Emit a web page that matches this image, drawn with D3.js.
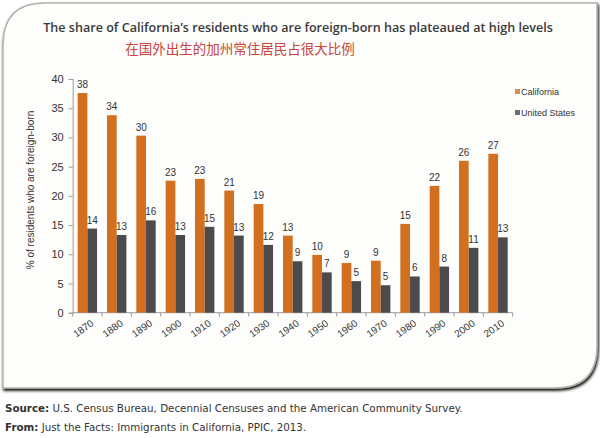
<!DOCTYPE html>
<html><head><meta charset="utf-8">
<script src="https://cdn.jsdelivr.net/npm/d3@7"></script>
<style>body{margin:0;background:#fff;} svg{display:block;}</style>
</head><body><svg id="c" width="600" height="438"></svg>
<script>
const years = ["1870","1880","1890","1900","1910","1920","1930","1940","1950","1960","1970","1980","1990","2000","2010"];
const california = [37.6,33.8,30.3,22.6,22.9,20.9,18.6,13.2,9.9,8.5,8.9,15.2,21.7,26.0,27.2];
const unitedStates = [14.4,13.3,15.8,13.3,14.7,13.2,11.6,8.8,6.9,5.4,4.7,6.2,7.9,11.1,12.9];
const seriesNames = ["California","United States"];
const yTicks = [0,5,10,15,20,25,30,35,40];
const title = "The share of California\u2019s residents who are foreign-born has plateaued at high levels";
const subtitle = "在国外出生的加州常住居民占很大比例";
const yTitle = "% of residents who are foreign-born";

const colors = {"California":"#d2701f","United States":"#4b4a4c"};
const svg = d3.select("#c");

// frame
const fx0=3, fy0=3, fx1=597, fy1=388, r=42;
const framePath = `M${fx0},${fy0+r} Q${fx0},${fy0} ${fx0+r},${fy0} L${fx1},${fy0} L${fx1},${fy1-r} Q${fx1},${fy1} ${fx1-r},${fy1} L${fx0},${fy1} Z`;
const defs = svg.append("defs");
const f = defs.append("filter").attr("id","sh").attr("x","-5%").attr("y","-5%").attr("width","110%").attr("height","110%");
f.append("feGaussianBlur").attr("in","SourceAlpha").attr("stdDeviation",1.5);
f.append("feOffset").attr("dx",1).attr("dy",1.5).attr("result","b");
const fm = f.append("feMerge"); fm.append("feMergeNode").attr("in","b"); fm.append("feMergeNode").attr("in","SourceGraphic");
svg.append("path").attr("d",framePath).attr("fill","#fdfdfb").attr("stroke","#b4b4ac").attr("stroke-width",1.5).attr("filter","url(#sh)");

// title
const t = svg.append("text").attr("x",298).attr("y",32).attr("text-anchor","middle")
  .style("font-family","'Open Sans', sans-serif").style("font-weight","600").style("font-size","14px").style("fill","#3a3a3a").text(title);
const tl = t.node().getComputedTextLength();
t.style("font-size",(14*510/tl)+"px");

svg.append("text").attr("x",240).attr("y",54).attr("text-anchor","middle")
  .style("font-family","'Noto Sans CJK SC', sans-serif").style("font-size","13.5px").style("fill","#c8443c").text(subtitle);

// scales
const x0 = d3.scaleBand().domain(years).range([72.7,512.7]).paddingInner(0.34).paddingOuter(0.17);
const x1 = d3.scaleBand().domain(seriesNames).range([0,x0.bandwidth()]);
const y = d3.scaleLinear().domain([0,40]).range([312.7,79]);

const axisColor = "#9a9aa2";
// y axis
const ya = svg.append("g").attr("transform","translate(72.7,0)")
  .call(d3.axisLeft(y).tickValues(yTicks).tickSize(4).tickPadding(5));
ya.select(".domain").attr("stroke",axisColor);
ya.selectAll(".tick line").attr("stroke",axisColor);
ya.selectAll(".tick text").style("font-family","Arial, 'Liberation Sans', sans-serif").style("font-size","11px").style("fill","#333");

// x axis
const xa = svg.append("g").attr("transform","translate(0,312.7)")
  .call(d3.axisBottom(x0).tickSize(0).tickFormat(""));
xa.select(".domain").attr("stroke",axisColor).attr("d","M72.7,0H512.7");
const step = x0.step();
const bnd = d3.range(years.length+1).map(i => 72.7 + i*step);
xa.selectAll("line.tk").data(bnd).join("line").attr("class","tk")
  .attr("x1",d=>d).attr("x2",d=>d).attr("y1",0).attr("y2",4).attr("stroke",axisColor);
xa.selectAll(".tick text").remove();
svg.append("g").selectAll("text").data(years).join("text")
  .attr("transform",d=>`translate(${x0(d)+x0.bandwidth()/2+5},${322}) rotate(-35)`)
  .attr("text-anchor","end").attr("dy","0.35em")
  .style("font-family","Arial, 'Liberation Sans', sans-serif").style("font-size","10px").style("fill","#333").text(d=>d);

// y title
svg.append("text").attr("transform","translate(34,190) rotate(-90)").attr("text-anchor","middle")
  .style("font-family","Arial, 'Liberation Sans', sans-serif").style("font-size","10px").style("fill","#333").text(yTitle);

// bars
const data = years.map((yr,i)=>({year:yr, vals:[{s:"California",v:california[i]},{s:"United States",v:unitedStates[i]}]}));
const g = svg.append("g").selectAll("g").data(data).join("g").attr("transform",d=>`translate(${x0(d.year)},0)`);
g.selectAll("rect").data(d=>d.vals).join("rect")
  .attr("x",d=>x1(d.s)).attr("width",x1.bandwidth()).attr("y",d=>y(d.v)).attr("height",d=>y(0)-y(d.v))
  .attr("fill",d=>colors[d.s]);
g.selectAll("text").data(d=>d.vals).join("text")
  .attr("x",d=>x1(d.s)+x1.bandwidth()/2).attr("y",d=>y(d.v)-5).attr("text-anchor","middle")
  .style("font-family","Arial, 'Liberation Sans', sans-serif").style("font-size","10px").style("fill","#333")
  .text(d=>Math.round(d.v));

// legend
const lg = svg.append("g").selectAll("g").data(seriesNames).join("g").attr("transform",(d,i)=>`translate(515,${92+i*21})`);
lg.append("rect").attr("x",0).attr("y",-3).attr("width",5).attr("height",5).attr("fill",d=>colors[d]).attr("opacity",0.8);
lg.append("text").attr("x",6).attr("y",0).attr("dy","0.35em")
  .style("font-family","Arial, 'Liberation Sans', sans-serif").style("font-size","9px").style("fill","#333").text(d=>d);

// footer
const foot = [["Source:"," U.S. Census Bureau, Decennial Censuses and the American Community Survey."],["From:"," Just the Facts: Immigrants in California, PPIC, 2013."]];
foot.forEach((ft,i)=>{
  const tx = svg.append("text").attr("x",5).attr("y",412+i*19)
    .style("font-family","'DejaVu Sans', Verdana, sans-serif").style("font-size","10.3px").style("fill","#333");
  tx.append("tspan").style("font-weight","bold").text(ft[0]);
  tx.append("tspan").text(ft[1]);
});
</script></body></html>
